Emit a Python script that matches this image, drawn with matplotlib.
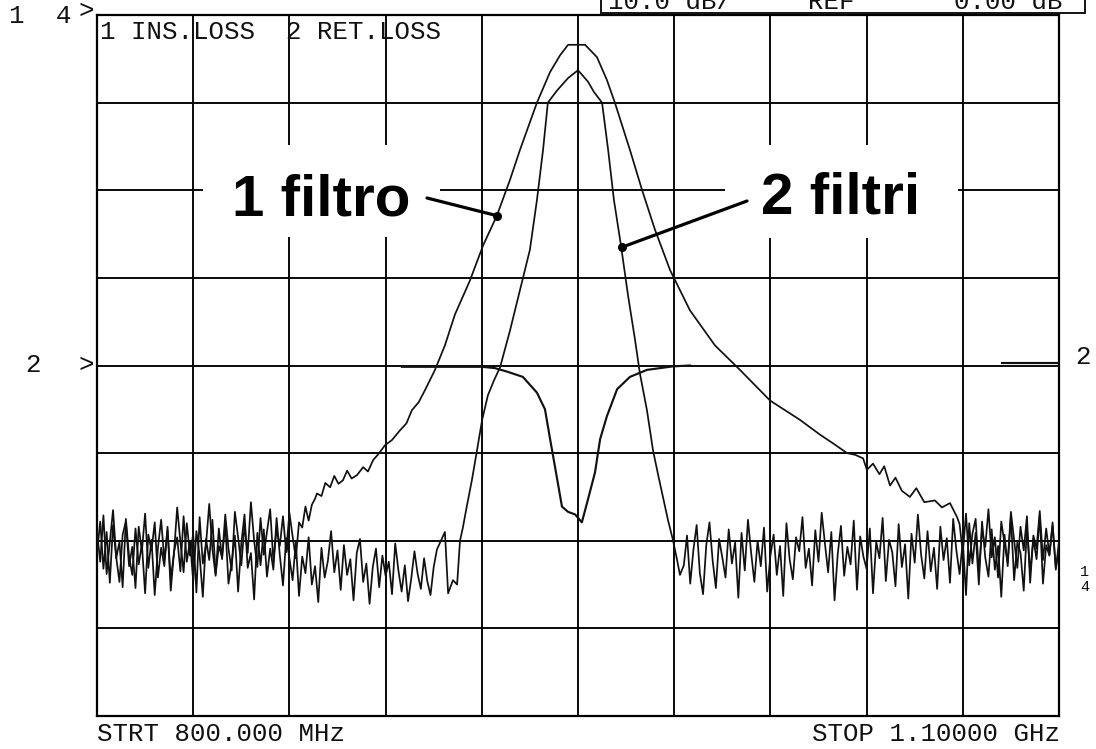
import numpy as np
import matplotlib
matplotlib.use("Agg")
import matplotlib.pyplot as plt
from matplotlib.patches import Rectangle

W, H = 1096, 749

# ---------------- data (MHz, dB) ----------------
# channel 1, trace "1 filtro" (insertion loss, wide)
f1_left_noise = np.arange(800, 869, 1.0)
db1_left_noise = [-58.9, -62.4, -57.1, -63.8, -60.2, -56.5, -61.9, -64.7, -59.3, -57.8,
                  -62.9, -60.7, -65.4, -58.4, -61.2, -56.9, -63.1, -59.9, -66.2, -60.8,
                  -57.6, -62.2, -58.8, -64.3, -61.5, -56.2, -60.1, -63.6, -58.0, -61.7,
                  -59.2, -65.9, -57.3, -62.6, -60.4, -55.8, -61.0, -64.0, -58.6, -62.1,
                  -57.0, -60.9, -63.4, -56.7, -59.6, -62.8, -58.3, -61.4, -55.6, -60.0,
                  -63.0, -57.4, -61.6, -59.0, -56.4, -62.3, -58.7, -60.6, -57.2, -61.3,
                  -56.8, -59.5, -62.0, -57.9, -58.5, -56.1, -57.7, -55.9, -55.2]
f1_main = [868.6, 870.0, 871.2, 872.7, 874.0, 875.3, 876.7, 878.0, 879.4, 881.1,
           883.0, 884.5, 886.1, 888.0, 889.8, 892.0, 894.5, 896.5, 898.2, 900.3,
           902.3, 905.4, 908.5, 911.6, 916.3, 920.4, 924.7, 928.8, 931.9, 937.2,
           941.3, 944.4, 946.9, 952.2, 955.9, 959.0, 961.5, 966.2, 970.0, 974.0,
           978.7, 984.9, 992.7, 1000.5, 1009.9, 1019.2, 1025.5, 1030.0, 1033.9, 1036.5,
           1038.9, 1040.1, 1042.0, 1044.0, 1045.5, 1047.3, 1049.0, 1051.0, 1053.5, 1055.5,
           1058.0, 1061.3, 1063.5, 1066.0, 1068.2]
db1_main = [-54.6, -54.9, -53.4, -53.9, -52.6, -53.5, -53.1, -52.0, -52.9, -52.5,
            -51.6, -52.1, -50.8, -50.0, -49.1, -48.5, -47.4, -46.6, -45.1, -44.2,
            -42.8, -40.5, -37.7, -34.2, -30.3, -26.3, -22.9, -18.8, -15.4, -10.0,
            -6.5, -4.6, -3.4, -3.4, -4.8, -7.4, -10.0, -15.4, -20.0, -24.5,
            -29.1, -33.7, -37.7, -40.5, -44.0, -46.2, -47.9, -49.0, -50.0, -50.2,
            -50.6, -51.9, -51.2, -52.4, -51.5, -53.7, -52.8, -54.3, -55.0, -54.0,
            -55.6, -55.4, -56.2, -55.7, -57.3]
f1_right_noise = np.arange(1069, 1101, 1.0)
db1_right_noise = [-58.1, -61.4, -56.9, -62.8, -59.2, -57.5, -63.6, -58.8, -60.7, -56.4,
                   -61.9, -59.6, -64.2, -57.8, -60.3, -62.5, -56.7, -59.9, -63.1, -58.4,
                   -61.1, -57.2, -64.8, -59.4, -60.9, -56.6, -62.2, -58.6, -61.6, -57.9,
                   -63.3, -60.1]

# channel 1, trace "2 filtri" (insertion loss, narrow)
f2_left_noise = np.arange(800, 907, 1.0)
db2_left_noise = [-61.5, -57.8, -63.2, -59.0, -64.8, -58.2, -62.0, -60.1, -65.3, -57.5,
                  -61.8, -63.9, -58.6, -62.7, -60.4, -66.0, -59.3, -61.1, -57.9, -64.2,
                  -60.8, -62.9, -58.4, -65.7, -61.3, -59.6, -63.5, -57.2, -62.4, -60.0,
                  -64.6, -58.9, -61.7, -66.4, -59.8, -62.2, -57.6, -63.8, -60.6, -61.9,
                  -58.1, -64.9, -62.5, -59.4, -65.8, -60.3, -57.0, -63.1, -61.4, -66.7,
                  -59.1, -62.8, -58.7, -64.1, -60.9, -63.3, -57.4, -61.6, -65.1, -59.7,
                  -62.0, -64.5, -60.2, -66.3, -61.8, -63.7, -59.6, -65.0, -62.9, -67.0,
                  -60.8, -64.2, -62.3, -58.9, -63.6, -61.1, -65.6, -60.5, -63.9, -62.1,
                  -66.8, -61.4, -59.8, -64.7, -62.6, -67.2, -63.0, -60.9, -65.3, -61.7,
                  -64.0, -62.4, -66.1, -60.3, -63.4, -65.8, -62.8, -66.9, -64.3, -61.2,
                  -63.8, -65.5, -62.0, -64.6, -66.2, -63.0, -61.0]
f2_main = [908.5, 909.5, 911.0, 912.3, 913.2, 914.1, 915.1, 916.9, 918.5, 920.1,
           921.9, 923.8, 925.7, 928.8, 931.9, 935.0, 937.2, 939.1, 940.6, 943.5,
           946.9, 950.0, 953.1, 955.0, 957.5, 959.4, 961.2, 963.4, 965.6, 967.8,
           969.3, 971.5, 973.4, 975.0, 976.5, 978.1, 979.6, 980.9, 981.8]
db2_main = [-59.0, -66.0, -64.5, -65.0, -60.0, -58.5, -56.5, -53.1, -49.7, -46.2,
            -43.4, -41.7, -40.2, -36.0, -31.4, -26.8, -21.1, -15.4, -10.0, -8.6,
            -7.2, -6.3, -7.6, -8.8, -10.0, -15.4, -21.1, -26.3, -32.0, -37.1,
            -40.9, -45.1, -49.7, -52.5, -55.0, -57.7, -59.9, -62.2, -63.9]
f2_right_noise = np.arange(983, 1101, 1.0)
db2_right_noise = [-62.8, -59.4, -64.9, -61.0, -58.2, -63.7, -66.1, -60.5, -57.9, -62.3,
                   -65.4, -59.8, -61.9, -64.2, -58.7, -62.6, -60.2, -66.5, -59.1, -63.4,
                   -57.6, -61.4, -64.7, -60.0, -62.9, -58.5, -65.8, -61.7, -59.3, -63.9,
                   -60.6, -66.3, -58.0, -62.1, -64.4, -59.6, -61.2, -57.3, -63.1, -60.9,
                   -65.1, -58.8, -62.4, -56.8, -60.3, -63.6, -59.0, -66.8, -61.5, -58.3,
                   -64.0, -60.7, -62.7, -57.7, -65.6, -59.5, -61.8, -63.2, -58.6, -66.0,
                   -60.1, -62.0, -57.4, -64.6, -59.9, -61.3, -65.2, -58.1, -63.0, -60.4,
                   -66.6, -59.2, -62.5, -57.0, -61.6, -64.3, -58.9, -63.5, -60.8, -65.5,
                   -58.4, -62.2, -59.7, -64.8, -57.5, -61.1, -63.8, -60.0, -66.2, -58.0,
                   -62.6, -59.1, -65.0, -57.8, -61.9, -64.1, -58.7, -63.3, -60.6, -66.4,
                   -59.3, -62.9, -57.2, -64.5, -60.2, -61.4, -65.7, -58.5, -63.6, -59.8,
                   -62.1, -57.1, -64.9, -60.5, -61.7, -58.3, -63.1, -60.9]

# channel 2 (return loss), REF 0 dB at 4th division
f_rl = [895.1, 905.0, 915.0, 920.1, 924.1, 927.9, 932.8, 937.2, 939.7, 941.3,
        942.8, 945.0, 946.9, 949.1, 951.2, 953.1, 955.3, 956.9, 959.0, 962.2,
        966.2, 971.5, 979.6, 984.9]
db_rl = [-0.15, -0.15, -0.15, -0.15, -0.3, -0.7, -1.3, -3.1, -5.0, -8.4,
         -11.5, -16.1, -16.7, -17.0, -17.9, -15.3, -12.2, -8.4, -5.8, -2.7,
         -1.3, -0.5, -0.1, 0.0]
f_rl_end = [1082.2, 1100.0]
db_rl_end = [0.3, 0.3]

marker_1filtro = (924.7, -22.9)
marker_2filtri = (963.7, -26.5)

f_start, f_stop = 800, 1100
f_div = 30

# ---------------- figure ----------------
def fx(x):
    return x / W

def fy(y):
    return 1 - y / H

fig = plt.figure(figsize=(W / 100, H / 100), dpi=100)
fig.patch.set_facecolor("white")
ax = fig.add_axes([fx(97), fy(716), (1059 - 97) / W, (716 - 15) / H])
ax.set_xlim(f_start, f_stop)
ax.set_ylim(-80, 0)
ax.set_xticks(np.arange(f_start, f_stop + 1, f_div))
ax.set_yticks(np.arange(-80, 1, 10))
ax.grid(True, color="black", lw=1.35)
ax.tick_params(length=0, labelbottom=False, labelleft=False)
for s in ax.spines.values():
    s.set_linewidth(1.6)

tcol = "#111111"
lw = 1.25
f1 = np.concatenate([f1_left_noise, f1_main, f1_right_noise])
d1 = np.concatenate([db1_left_noise, db1_main, db1_right_noise])
f2 = np.concatenate([f2_left_noise, f2_main, f2_right_noise])
d2 = np.concatenate([db2_left_noise, db2_main, db2_right_noise])
ax.plot(f1, d1, color=tcol, lw=lw, zorder=4)
ax.plot(f2, d2, color=tcol, lw=lw, zorder=4)

ax2 = ax.twinx()
ax2.set_ylim(-40, 40)
ax2.set_yticks([])
for s in ax2.spines.values():
    s.set_visible(False)
ax2.plot(f_rl, db_rl, color=tcol, lw=lw + 0.3, zorder=4)
ax2.plot(f_rl_end, db_rl_end, color=tcol, lw=lw + 0.3, zorder=4)

# white boxes behind the annotation labels
for (x0, y0, x1, y1) in [(203, 145, 440, 237), (725, 145, 958, 238)]:
    ax.add_patch(Rectangle((fx(x0), fy(y1)), (x1 - x0) / W, (y1 - y0) / H,
                           transform=fig.transFigure, facecolor="white",
                           edgecolor="none", zorder=3, clip_on=False))

ax.plot(*marker_1filtro, marker="o", ms=5.5, color="black", zorder=6)
ax.plot(*marker_2filtri, marker="o", ms=5.5, color="black", zorder=6)
ax.annotate("", xy=marker_1filtro, xytext=(fx(427), fy(198)),
            textcoords="figure fraction",
            arrowprops=dict(arrowstyle="-", lw=2.3, color="black",
                            shrinkA=0, shrinkB=0), zorder=5)
ax.annotate("", xy=marker_2filtri, xytext=(fx(747), fy(201)),
            textcoords="figure fraction",
            arrowprops=dict(arrowstyle="-", lw=2.3, color="black",
                            shrinkA=0, shrinkB=0), zorder=5)

big = dict(family="Liberation Sans", weight="bold", fontsize=42, color="black",
           va="baseline", ha="left")
fig.text(fx(232), fy(215), "1 filtro", **big)
fig.text(fx(761), fy(213), "2 filtri", **big)

# instrument annotations
mono = dict(family="Liberation Mono", fontsize=18.5, color="#111111")
fig.text(fx(97), fy(741), "STRT 800.000 MHz", ha="left", va="baseline", **mono)
fig.text(fx(1060), fy(741), "STOP 1.10000 GHz", ha="right", va="baseline", **mono)
fig.text(fx(100), fy(39), "1 INS.LOSS  2 RET.LOSS", ha="left", va="baseline", **mono)
fig.text(fx(8), fy(23), "1", ha="left", va="baseline", **mono)
fig.text(fx(56), fy(23), "4", ha="left", va="baseline", **mono)
fig.text(fx(78), fy(18), ">", ha="left", va="baseline", **mono)
fig.text(fx(25), fy(372), "2", ha="left", va="baseline", **mono)
fig.text(fx(79), fy(372), ">", ha="left", va="baseline", **mono)
fig.text(fx(1075), fy(364), "2", ha="left", va="baseline", **mono)
small = dict(family="Liberation Mono", fontsize=11, color="#111111")
fig.text(fx(1080), fy(576), "1", ha="left", va="baseline", **small)
fig.text(fx(1080), fy(591), "4", ha="left", va="baseline", **small)

# top-right scale box (cut by the page edge)
fig.add_artist(Rectangle((fx(601), fy(13)), (1085 - 601) / W, 30 / H,
                         transform=fig.transFigure, facecolor="white",
                         edgecolor="black", lw=1.3))
fig.text(fx(608), fy(9), "10.0 dB/", ha="left", va="baseline", **mono)
fig.text(fx(808), fy(9), "REF", ha="left", va="baseline", **mono)
fig.text(fx(1062), fy(9), "0.00 dB", ha="right", va="baseline", **mono)

fig.savefig("out.png", dpi=100, facecolor="white")
